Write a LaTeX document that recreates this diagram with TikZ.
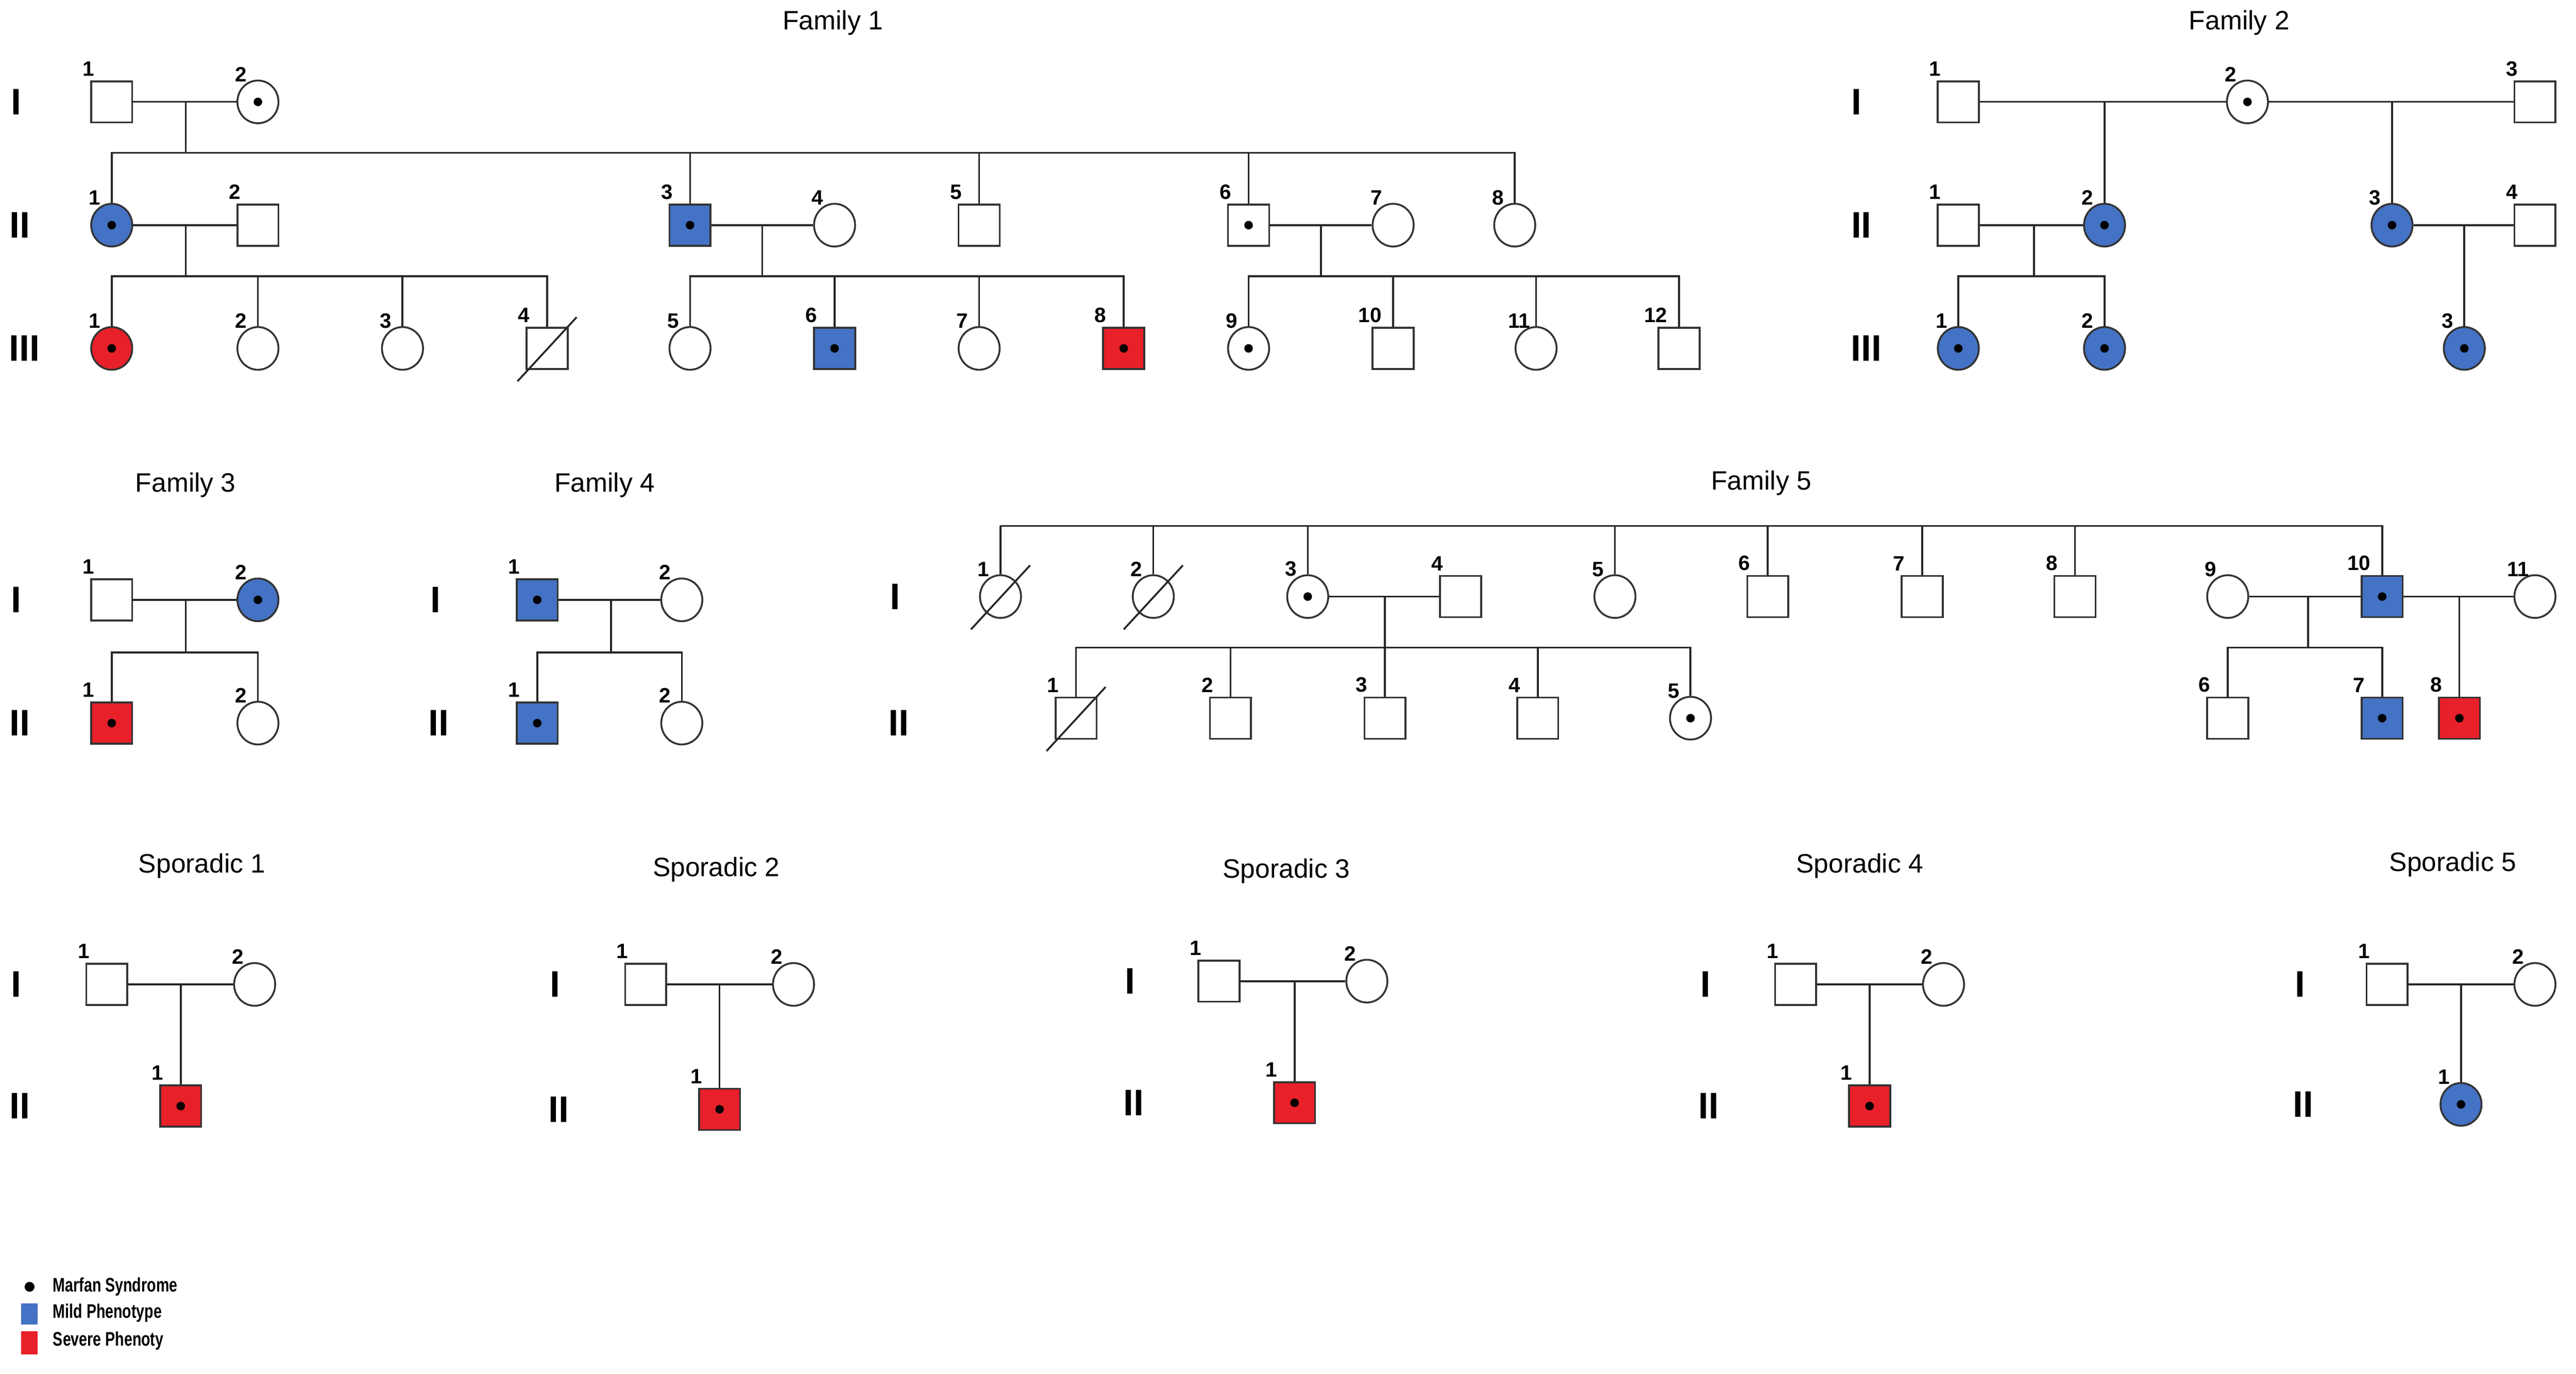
\documentclass[tikz,border=0pt]{standalone}
\usepackage{fontspec}
\setmainfont{Liberation Sans}
\definecolor{mild}{RGB}{68,114,196}
\definecolor{sev}{RGB}{232,32,42}
\usetikzlibrary{shapes.geometric}
\begin{document}
\begin{tikzpicture}[x=0.1cm,y=-0.1cm,line width=3.2pt,color=black!85,
 m/.style={draw=black!80,line width=3.2pt,rectangle,minimum size=2.5cm,inner sep=0,fill=white},
 f/.style={draw=black!80,line width=3.2pt,ellipse,minimum width=2.5cm,minimum height=2.6cm,inner sep=0,fill=white},
 mi/.style={fill=mild},
 se/.style={fill=sev},
 n/.style={label={[text=black,font=\fontsize{36}{40}\selectfont\bfseries,anchor=south,inner sep=0,yshift=6pt,xshift=-3pt]north west:#1}},
 ttl/.style={text=black,font=\fontsize{46}{50}\selectfont},
 rom/.style={text=black,font=\fontsize{64}{66}\selectfont\bfseries},
 lg/.style={text=black,font=\fontsize{34}{36}\selectfont\bfseries,anchor=west,xscale=0.75}]
\newcommand\md[1]{\fill[black] (#1) circle (2.6);}
\newcommand\dec[1]{\draw (#1)++(-18,20) -- ++(36,-39);}
\useasboundingbox (0,0) rectangle (1568,836);
% ---------------- Family 1
\node[ttl] (t1) at (507,14) {Family 1};
\node[rom] (r11) at (10,62) {I};
\node[rom] (r12) at (12,137) {II};
\node[rom] (r13) at (15,212) {III};
\node[m,n=1] (a1) at (68,62) {};
\node[f,n=2] (a2) at (157,62) {}; \md{a2}
\node[f,mi,n=1] (b1) at (68,137) {}; \md{b1}
\node[m,n=2] (b2) at (157,137) {};
\node[m,mi,n=3] (b3) at (420,137) {}; \md{b3}
\node[f,n=4] (b4) at (508,137) {};
\node[m,n=5] (b5) at (596,137) {};
\node[m,n=6] (b6) at (760,137) {}; \md{b6}
\node[f,n=7] (b7) at (848,137) {};
\node[f,n=8] (b8) at (922,137) {};
\node[f,se,n=1] (c1) at (68,212) {}; \md{c1}
\node[f,n=2] (c2) at (157,212) {};
\node[f,n=3] (c3) at (245,212) {};
\node[m,n=4] (c4) at (333,212) {}; \dec{c4}
\node[f,n=5] (c5) at (420,212) {};
\node[m,mi,n=6] (c6) at (508,212) {}; \md{c6}
\node[f,n=7] (c7) at (596,212) {};
\node[m,se,n=8] (c8) at (684,212) {}; \md{c8}
\node[f,n=9] (c9) at (760,212) {}; \md{c9}
\node[m,n=10] (c10) at (848,212) {};
\node[f,n=11] (c11) at (935,212) {};
\node[m,n=12] (c12) at (1022,212) {};
\coordinate (fa1) at (113,62); \coordinate (sa1) at (113,93);
\draw (a1) -- (a2); \draw (fa1) -- (sa1);
\foreach \k in {b1,b3,b5,b6,b8} \draw (\k) |- (sa1);
\coordinate (fb1) at (113,137); \coordinate (sb1) at (113,168);
\draw (b1) -- (b2); \draw (fb1) -- (sb1);
\foreach \k in {c1,c2,c3,c4} \draw (\k) |- (sb1);
\coordinate (fb3) at (464,137); \coordinate (sb3) at (464,168);
\draw (b3) -- (b4); \draw (fb3) -- (sb3);
\foreach \k in {c5,c6,c7,c8} \draw (\k) |- (sb3);
\coordinate (fb6) at (804,137); \coordinate (sb6) at (804,168);
\draw (b6) -- (b7); \draw (fb6) -- (sb6);
\foreach \k in {c9,c10,c11,c12} \draw (\k) |- (sb6);
% ---------------- Family 2
\node[ttl] (t2) at (1363,14) {Family 2};
\node[rom] (r21) at (1130,62) {I};
\node[rom] (r22) at (1133,137) {II};
\node[rom] (r23) at (1136,212) {III};
\node[m,n=1] (d1) at (1192,62) {};
\node[f,n=2] (d2) at (1368,62) {}; \md{d2}
\node[m,n=3] (d3) at (1543,62) {};
\node[m,n=1] (e1) at (1192,137) {};
\node[f,mi,n=2] (e2) at (1281,137) {}; \md{e2}
\node[f,mi,n=3] (e3) at (1456,137) {}; \md{e3}
\node[m,n=4] (e4) at (1543,137) {};
\node[f,mi,n=1] (g1) at (1192,212) {}; \md{g1}
\node[f,mi,n=2] (g2) at (1281,212) {}; \md{g2}
\node[f,mi,n=3] (g3) at (1500,212) {}; \md{g3}
\draw (d1) -- (d2); \draw (d2) -- (d3);
\coordinate (fd1) at (1281,62); \coordinate (fd2) at (1456,62);
\draw (fd1) -- (e2); \draw (fd2) -- (e3);
\draw (e1) -- (e2); \draw (e3) -- (e4);
\coordinate (fe1) at (1238,137); \coordinate (se1) at (1238,168);
\draw (fe1) -- (se1); \draw (g1) |- (se1); \draw (g2) |- (se1);
\coordinate (fe3) at (1500,137); \draw (fe3) -- (g3);
% ---------------- Family 3
\node[ttl] (t3) at (113,295) {Family 3};
\node[rom] (r31) at (10,365) {I};
\node[rom] (r32) at (12,440) {II};
\node[m,n=1] (h1) at (68,365) {};
\node[f,mi,n=2] (h2) at (157,365) {}; \md{h2}
\node[m,se,n=1] (i1) at (68,440) {}; \md{i1}
\node[f,n=2] (i2) at (157,440) {};
\coordinate (fh) at (113,365); \coordinate (sh) at (113,397);
\draw (h1) -- (h2); \draw (fh) -- (sh); \draw (i1) |- (sh); \draw (i2) |- (sh);
% ---------------- Family 4
\node[ttl] (t4) at (368,295) {Family 4};
\node[rom] (r41) at (265,365) {I};
\node[rom] (r42) at (267,440) {II};
\node[m,mi,n=1] (j1) at (327,365) {}; \md{j1}
\node[f,n=2] (j2) at (415,365) {};
\node[m,mi,n=1] (k1) at (327,440) {}; \md{k1}
\node[f,n=2] (k2) at (415,440) {};
\coordinate (fj) at (372,365); \coordinate (sj) at (372,397);
\draw (j1) -- (j2); \draw (fj) -- (sj); \draw (k1) |- (sj); \draw (k2) |- (sj);
% ---------------- Family 5
\node[ttl] (t5) at (1072,294) {Family 5};
\node[rom] (r51) at (545,363) {I};
\node[rom] (r52) at (547,440) {II};
\node[f,n=1] (p1) at (609,363) {}; \dec{p1}
\node[f,n=2] (p2) at (702,363) {}; \dec{p2}
\node[f,n=3] (p3) at (796,363) {}; \md{p3}
\node[m,n=4] (p4) at (889,363) {};
\node[f,n=5] (p5) at (983,363) {};
\node[m,n=6] (p6) at (1076,363) {};
\node[m,n=7] (p7) at (1170,363) {};
\node[m,n=8] (p8) at (1263,363) {};
\node[f,n=9] (p9) at (1356,363) {};
\node[m,mi,n=10] (p10) at (1450,363) {}; \md{p10}
\node[f,n=11] (p11) at (1543,363) {};
\coordinate (s5) at (609,320);
\foreach \k in {p1,p2,p3,p5,p6,p7,p8,p10} \draw (\k) |- (s5);
\node[m,n=1] (q1) at (655,437) {}; \dec{q1}
\node[m,n=2] (q2) at (749,437) {};
\node[m,n=3] (q3) at (843,437) {};
\node[m,n=4] (q4) at (936,437) {};
\node[f,n=5] (q5) at (1029,437) {}; \md{q5}
\node[m,n=6] (q6) at (1356,437) {};
\node[m,mi,n=7] (q7) at (1450,437) {}; \md{q7}
\node[m,se,n=8] (q8) at (1497,437) {}; \md{q8}
\draw (p3) -- (p4); \draw (p9) -- (p10); \draw (p10) -- (p11);
\coordinate (fp3) at (843,363); \coordinate (sp3) at (843,394);
\draw (fp3) -- (sp3);
\foreach \k in {q1,q2,q3,q4,q5} \draw (\k) |- (sp3);
\coordinate (fp9) at (1405,363); \coordinate (sp9) at (1405,394);
\draw (fp9) -- (sp9); \draw (q6) |- (sp9); \draw (q7) |- (sp9);
\coordinate (fp10) at (1497,363); \draw (fp10) -- (q8);
% ---------------- Sporadic
\foreach \i/\tx/\rx/\ax/\ay/\bx/\by/\ty in {1/123/10/65/599/110/673/527, 2/436/338/393/599/438/675/529, 3/783/688/742/597/788/671/530, 4/1132/1038/1093/599/1138/673/527, 5/1493/1400/1453/599/1498/672/526}{
  \node[ttl] (st\i) at (\tx,\ty) {Sporadic \i};
  \node[rom] (sr\i a) at (\rx,\ay) {I};
  \node[rom] (sr\i b) at (\rx+2,\by) {II};
  \node[m,n=1] (sa\i) at (\ax,\ay) {};
  \node[f,n=2] (sb\i) at (\ax+90,\ay) {};
  \coordinate (sm\i) at (\bx,\ay);
  \draw (sa\i) -- (sb\i);
}
\node[m,se,n=1] (sc1) at (110,673) {}; \md{sc1}
\node[m,se,n=1] (sc2) at (438,675) {}; \md{sc2}
\node[m,se,n=1] (sc3) at (788,671) {}; \md{sc3}
\node[m,se,n=1] (sc4) at (1138,673) {}; \md{sc4}
\node[f,mi,n=1] (sc5) at (1498,672) {}; \md{sc5}
\foreach \i in {1,...,5} \draw (sm\i) -- (sc\i);
% ---------------- Legend
\fill[black] (18,783) circle (3);
\fill[mild] (13,793) rectangle (23,806);
\fill[sev] (13,810) rectangle (23,824);
\node[lg] (l1) at (31,783) {Marfan Syndrome};
\node[lg] (l2) at (31,799) {Mild Phenotype};
\node[lg] (l3) at (31,816) {Severe Phenoty};
\end{tikzpicture}
\end{document}
